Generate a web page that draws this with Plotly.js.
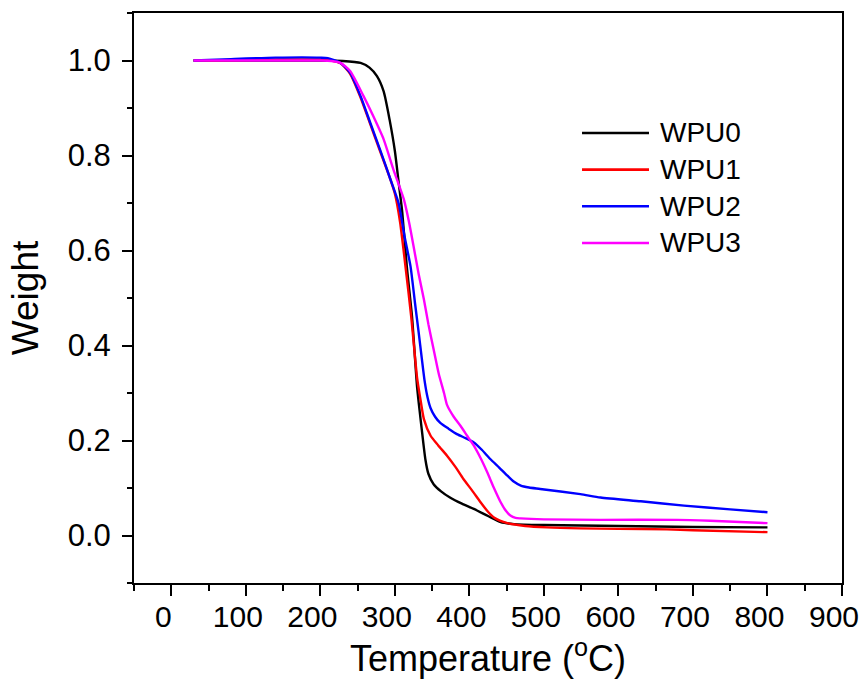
<!DOCTYPE html>
<html>
<head>
<meta charset="utf-8">
<script src="https://cdn.plot.ly/plotly-3.0.1.min.js"></script>
<style>html,body{margin:0;padding:0;background:#fff;}#chart{width:867px;height:689px;}</style>
</head>
<body>
<div id="chart"></div>
<script>
// WPU0 (black)
const t0 = [30, 100, 200, 230, 254, 266, 276, 285, 293, 300, 305, 310, 316, 323, 330, 336, 341, 345, 352, 362, 374, 390, 406, 425, 442, 460, 500, 549, 600, 700, 800];
const w0 = [1.000, 1.000, 1.000, 0.999, 0.995, 0.985, 0.967, 0.935, 0.875, 0.810, 0.745, 0.680, 0.567, 0.462, 0.310, 0.225, 0.160, 0.130, 0.108, 0.093, 0.080, 0.067, 0.056, 0.041, 0.028, 0.024, 0.022, 0.021, 0.020, 0.018, 0.017];
// WPU1 (red)
const t1 = [30, 100, 150, 200, 215, 227, 240, 254, 267, 280, 294, 300, 307, 314, 322, 330, 334, 339, 348, 358, 370, 381, 392, 404, 415, 425, 433, 451, 475, 504, 549, 600, 665, 700, 800];
const w1 = [1.000, 1.001, 1.002, 1.002, 1.000, 0.994, 0.972, 0.922, 0.866, 0.810, 0.750, 0.720, 0.660, 0.570, 0.460, 0.330, 0.290, 0.245, 0.210, 0.190, 0.168, 0.145, 0.119, 0.094, 0.070, 0.050, 0.038, 0.026, 0.020, 0.017, 0.015, 0.014, 0.013, 0.011, 0.007];
// WPU2 (blue)
const t2 = [30, 80, 140, 200, 210, 227, 240, 254, 267, 280, 294, 305, 313, 321, 327, 332, 336, 340, 344, 348, 354, 361, 372, 384, 395, 406, 417, 428, 440, 451, 460, 469, 480, 495, 549, 576, 630, 688, 750, 800];
const w2 = [1.000, 1.003, 1.006, 1.006, 1.005, 0.995, 0.974, 0.925, 0.869, 0.813, 0.750, 0.700, 0.630, 0.567, 0.490, 0.427, 0.375, 0.325, 0.290, 0.268, 0.250, 0.237, 0.225, 0.213, 0.205, 0.196, 0.180, 0.161, 0.143, 0.126, 0.113, 0.105, 0.101, 0.098, 0.087, 0.080, 0.072, 0.063, 0.055, 0.049];
// WPU3 (magenta)
const t3 = [30, 100, 200, 215, 227, 240, 258, 271, 285, 298, 312, 319, 325, 332, 339, 345, 352, 359, 366, 370, 379, 388, 397, 406, 415, 424, 433, 442, 449, 455, 462, 469, 500, 576, 679, 723, 800];
const w3 = [1.000, 1.000, 1.000, 0.999, 0.995, 0.978, 0.925, 0.883, 0.834, 0.771, 0.708, 0.660, 0.610, 0.550, 0.497, 0.445, 0.392, 0.340, 0.300, 0.275, 0.250, 0.231, 0.210, 0.189, 0.163, 0.133, 0.100, 0.070, 0.052, 0.042, 0.037, 0.036, 0.034, 0.033, 0.033, 0.031, 0.026];

const names = ['WPU0', 'WPU1', 'WPU2', 'WPU3'];
const colors = ['#000000', '#ff0000', '#0000ff', '#ff00ff'];
const xs = [t0, t1, t2, t3];
const ys = [w0, w1, w2, w3];
const xTicks = [0, 100, 200, 300, 400, 500, 600, 700, 800, 900];
const yTicks = [0.0, 0.2, 0.4, 0.6, 0.8, 1.0];

const traces = names.map((n, i) => ({
  x: xs[i], y: ys[i], name: n, type: 'scatter', mode: 'lines',
  line: {color: colors[i], width: 2.4, shape: 'spline', smoothing: 0.6},
  showlegend: false
}));

const font = 'Arial, "Liberation Sans", sans-serif';

// legend drawn as paper-anchored line samples + text labels
const legTop = 0.7895, legStep = 0.0643;
const legLineX0 = 0.6328, legLineX1 = 0.7274, legTextX = 0.7401;
const shapes = names.map((n, i) => ({
  type: 'line', xref: 'paper', yref: 'paper',
  x0: legLineX0, x1: legLineX1, y0: legTop - i * legStep, y1: legTop - i * legStep,
  line: {color: colors[i], width: 2.6}
}));
const annotations = names.map((n, i) => ({
  xref: 'paper', yref: 'paper', x: legTextX, y: legTop - i * legStep,
  xanchor: 'left', yanchor: 'middle', text: n, showarrow: false,
  font: {family: font, size: 28, color: '#000'}
}));

const layout = {
  width: 867, height: 689,
  margin: {l: 134, r: 25, t: 13, b: 106},
  paper_bgcolor: '#fff', plot_bgcolor: '#fff',
  font: {family: font, color: '#000', size: 28},
  showlegend: false,
  shapes: shapes,
  annotations: annotations,
  xaxis: {
    range: [-50, 900], tickvals: xTicks, ticktext: xTicks.map(String),
    showgrid: false, zeroline: false, showline: true, linecolor: '#000', linewidth: 2, mirror: true,
    ticks: 'outside', ticklen: 11, tickwidth: 2, tickcolor: '#000',
    minor: {dtick: 50, tick0: 0, ticks: 'outside', ticklen: 6, tickwidth: 2, tickcolor: '#000', showgrid: false},
    tickfont: {family: font, size: 30}, ticklabelshift: -8, ticklabelstandoff: -5,
    title: {text: 'Temperature (<sup>o</sup>C)', font: {family: font, size: 36}, standoff: 8}
  },
  yaxis: {
    range: [-0.1, 1.1], tickvals: yTicks, ticktext: yTicks.map(v => v.toFixed(1)),
    showgrid: false, zeroline: false, showline: true, linecolor: '#000', linewidth: 2, mirror: true,
    ticks: 'outside', ticklen: 10, tickwidth: 2, tickcolor: '#000',
    minor: {dtick: 0.1, tick0: 0, ticks: 'outside', ticklen: 5, tickwidth: 2, tickcolor: '#000', showgrid: false},
    tickfont: {family: font, size: 31}, ticklabelstandoff: 5,
    title: {text: 'Weight', font: {family: font, size: 37}, standoff: 18}
  }
};

Plotly.newPlot('chart', traces, layout, {displayModeBar: false, staticPlot: true});
</script>
</body>
</html>
